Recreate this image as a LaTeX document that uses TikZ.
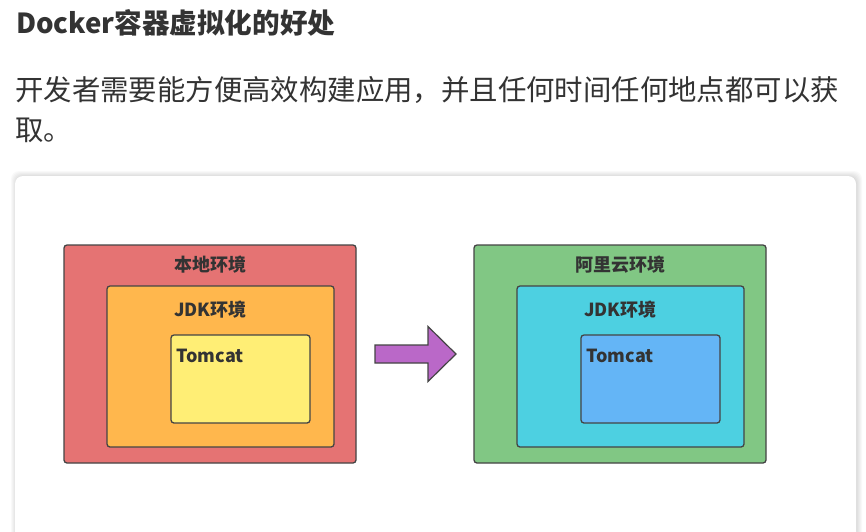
\documentclass[tikz,border=0pt]{standalone}
\usepackage{fontspec}
\setmainfont{Noto Sans CJK SC}
\usetikzlibrary{positioning, calc}

\definecolor{textgray}{HTML}{333333}
\definecolor{edgegray}{HTML}{444444}
\definecolor{localred}{HTML}{E57373}
\definecolor{jdkorange}{HTML}{FFB74D}
\definecolor{tomyellow}{HTML}{FFEE75}
\definecolor{cloudgreen}{HTML}{81C784}
\definecolor{jdkcyan}{HTML}{4DD0E1}
\definecolor{tomblue}{HTML}{64B5F6}
\definecolor{arrowpurple}{HTML}{BA68C8}

\tikzset{
  envbox/.style = {draw = edgegray, line width = 1.3pt, rounded corners = 3pt, inner sep = 0pt},
  boxlabel/.style = {font = \bfseries\fontsize{18}{20}\selectfont, text = textgray, inner sep = 0pt},
  pagetext/.style = {anchor = base west, inner sep = 0pt, text = textgray}
}

\begin{document}
\begin{tikzpicture}[x = 1pt, y = -1pt]
\useasboundingbox (0,0) rectangle (866,531);
\fill[white] (0,0) rectangle (866,531);

% heading and text
\node[pagetext, font = \bfseries\fontsize{27.6}{33}\selectfont] (title) at (16,33) {Docker容器虚拟化的好处};
\node[pagetext, font = \fontsize{28.4}{34}\selectfont] (line1) at (15,100) {开发者需要能方便高效构建应用，并且任何时间任何地点都可以获};
\node[pagetext, font = \fontsize{28.4}{34}\selectfont] (line2) at (15,140) {取。};

% card with soft shadow
\foreach \i in {1, 2, ..., 6}{
\fill[black, opacity = 0.025, rounded corners = 8pt] (15-\i+2,176-\i+1) rectangle (856+\i,560);}
\fill[white, rounded corners = 8pt] (15,176) rectangle (856,560);

% local side
\node[envbox, fill = localred, minimum width = 292pt, minimum height = 218pt] (local) at (210,354) {};
\node[envbox, fill = jdkorange, minimum width = 227pt, minimum height = 161pt] (jdkL) at (220.5,366.5) {};
\node[envbox, fill = tomyellow, minimum width = 139pt, minimum height = 88pt] (tomL) at (240.5,379) {};
\node[boxlabel] (localtxt) at ([yshift = -20pt]local.north) {本地环境};
\node[boxlabel] (jdkLtxt) at ([xshift = -10pt, yshift = -24pt]jdkL.north) {JDK环境};
\node[boxlabel, anchor = west] (tomLtxt) at ([xshift = 6pt, yshift = -22pt]tomL.north west) {Tomcat};

% cloud side
\node[envbox, fill = cloudgreen, minimum width = 292pt, minimum height = 218pt] (cloud) at (620,354) {};
\node[envbox, fill = jdkcyan, minimum width = 227pt, minimum height = 161pt] (jdkR) at (630.5,366.5) {};
\node[envbox, fill = tomblue, minimum width = 139pt, minimum height = 88pt] (tomR) at (650.5,379) {};
\node[boxlabel] (cloudtxt) at ([yshift = -20pt]cloud.north) {阿里云环境};
\node[boxlabel] (jdkRtxt) at ([xshift = -10pt, yshift = -24pt]jdkR.north) {JDK环境};
\node[boxlabel, anchor = west] (tomRtxt) at ([xshift = 6pt, yshift = -22pt]tomR.north west) {Tomcat};

% move arrow
\coordinate (tail) at (375,354);
\draw[edgegray, fill = arrowpurple, line width = 1.2pt, line join = miter]
  ($(tail)+(0,-9)$) -- ($(tail)+(53,-9)$) -- ($(tail)+(53,-27.5)$) -- ($(tail)+(81,0)$)
  -- ($(tail)+(53,27.5)$) -- ($(tail)+(53,9)$) -- ($(tail)+(0,9)$) -- cycle;
\end{tikzpicture}
\end{document}
